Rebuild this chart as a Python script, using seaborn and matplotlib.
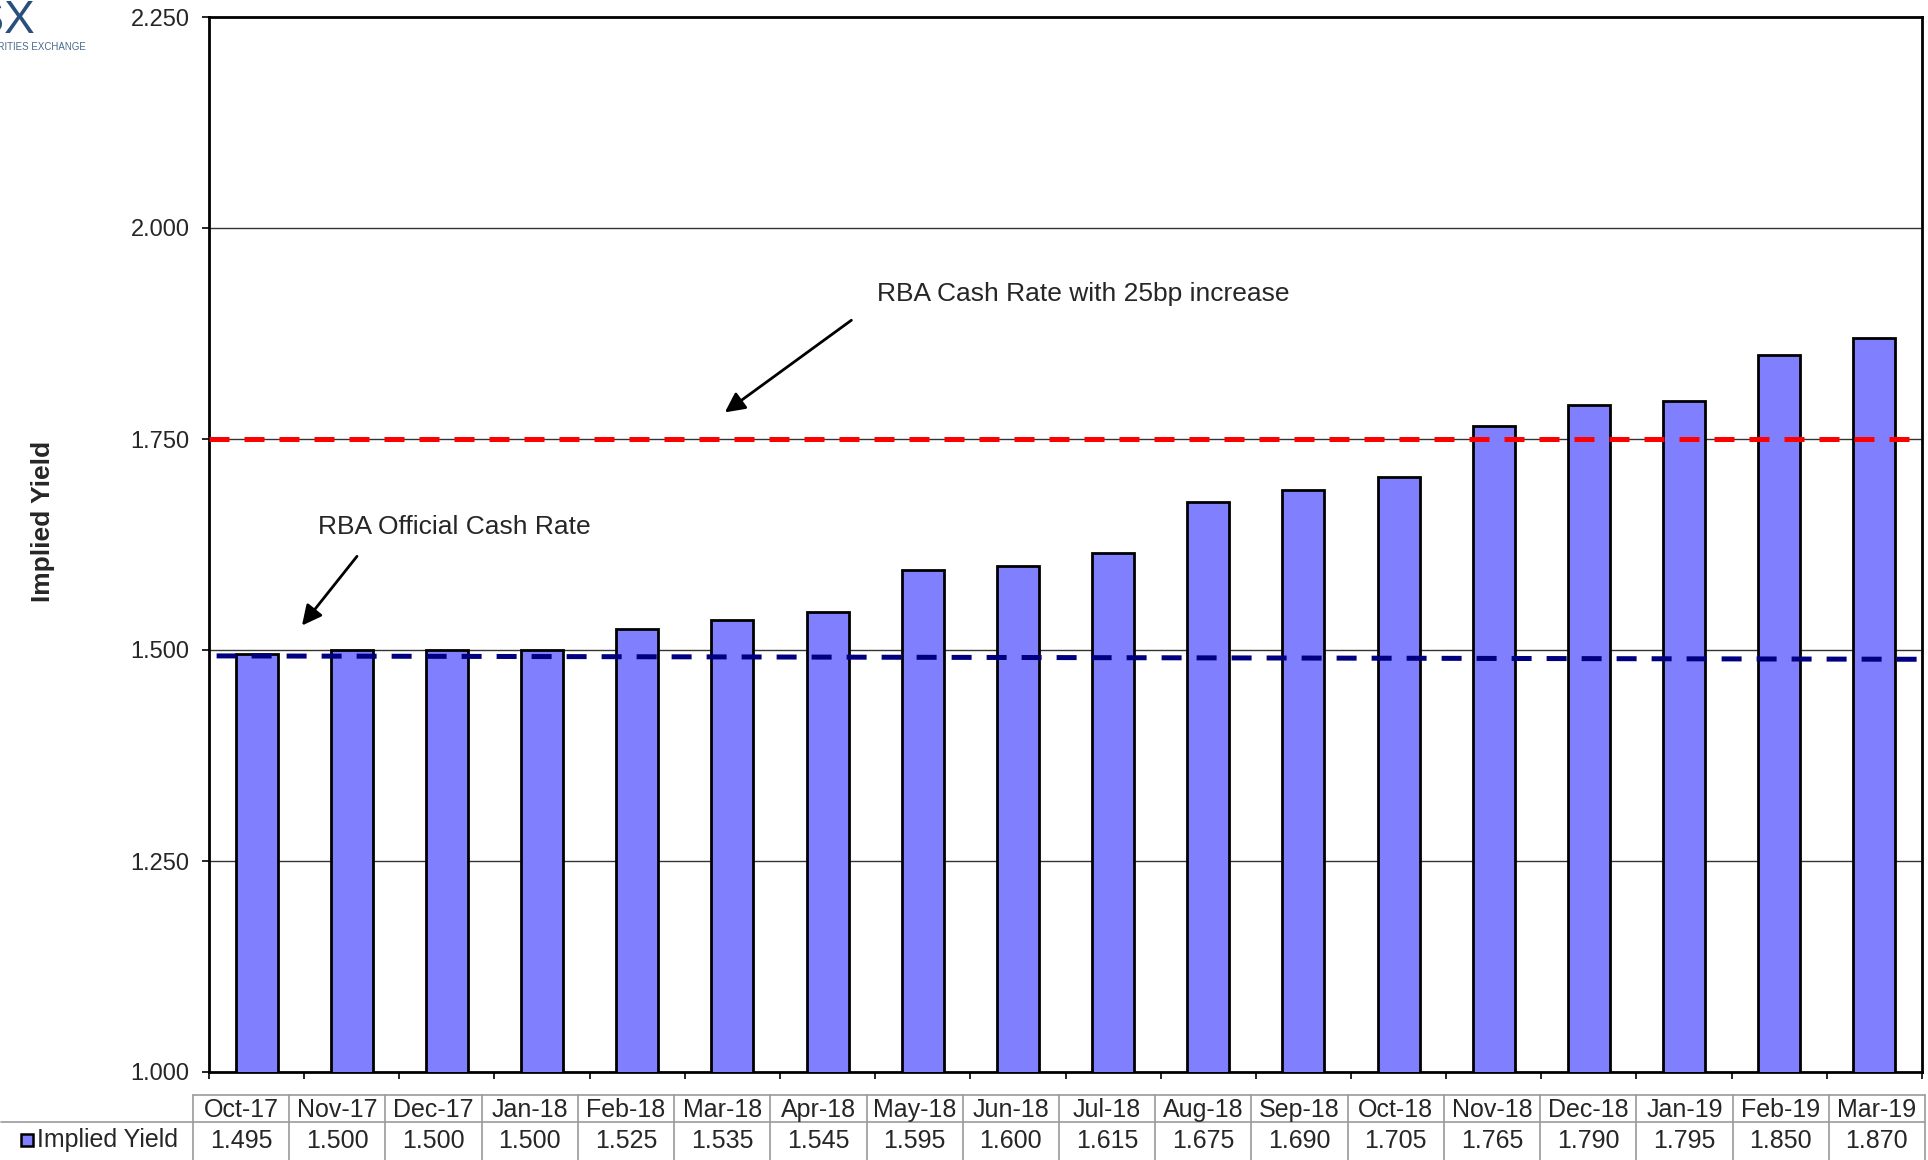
import matplotlib
matplotlib.use("Agg")
import matplotlib.pyplot as plt
import seaborn as sns
import pandas as pd

months = ["Oct-17", "Nov-17", "Dec-17", "Jan-18", "Feb-18", "Mar-18", "Apr-18",
          "May-18", "Jun-18", "Jul-18", "Aug-18", "Sep-18", "Oct-18", "Nov-18",
          "Dec-18", "Jan-19", "Feb-19", "Mar-19"]
implied_yield = [1.495, 1.500, 1.500, 1.500, 1.525, 1.535, 1.545, 1.595, 1.600,
                 1.615, 1.675, 1.690, 1.705, 1.765, 1.790, 1.795, 1.850, 1.870]
official_rate_line = [1.493, 1.489]   # start / end of the cash-rate marker
increase_rate = 1.75
y_ticks = [1.000, 1.250, 1.500, 1.750, 2.000, 2.250]

sns.set_theme(style="white")
plt.rcParams["font.family"] = ["Liberation Sans", "DejaVu Sans"]

W, H = 1928, 1160
fig = plt.figure(figsize=(W / 100, H / 100), dpi=100)


def px_box(x0, y0, x1, y1):
    return [x0 / W, 1 - y1 / H, (x1 - x0) / W, (y1 - y0) / H]


ax = fig.add_axes(px_box(209, 17, 1922, 1072))

df = pd.DataFrame({"Month": months, "Implied Yield": implied_yield})
sns.barplot(data=df, x="Month", y="Implied Yield", order=months,
            color="#8080FF", saturation=1, edgecolor="black", linewidth=2,
            width=0.44, ax=ax, zorder=3)

ax.set_ylim(y_ticks[0], y_ticks[-1])
ax.set_xlim(-0.5, len(months) - 0.5)
ax.set_yticks(y_ticks)
ax.set_yticklabels([f"{v:.3f}" for v in y_ticks], fontsize=17)
ax.set_xticks([i - 0.5 for i in range(len(months) + 1)])
ax.set_xticklabels([])
ax.tick_params(axis="y", which="both", left=True, length=5, width=1.2,
               color="black", pad=9)
ax.tick_params(axis="x", which="both", bottom=True, length=5, width=1.2,
               color="black")
ax.set_xlabel("")
ax.set_ylabel("")
for y in y_ticks[1:-1]:
    ax.axhline(y, color="#333333", lw=1.0, zorder=1)
for s in ax.spines.values():
    s.set_visible(True)
    s.set_color("black")
    s.set_linewidth(2)

# reference rates
ax.plot([-0.5, len(months) - 0.5], [increase_rate, increase_rate],
        color="#FF0000", lw=3.6, dashes=(4, 3), zorder=4)
ax.plot([-0.42, len(months) - 0.5], official_rate_line,
        color="#000080", lw=3.6, dashes=(4, 3), zorder=4)

fig.text(43 / W, 1 - 521 / H, "Implied Yield", rotation=90, fontsize=19,
         fontweight="bold", ha="center", va="center")

# annotations
arrow_kw = dict(arrowstyle="-|>", color="black", lw=2, mutation_scale=30,
                shrinkA=0, shrinkB=0)
ax.text(6.52, 1.922, "RBA Cash Rate with 25bp increase", fontsize=19,
        ha="left", va="center", zorder=5)
ax.annotate("", xy=(4.92, 1.7815), xytext=(6.25, 1.8907), arrowprops=arrow_kw)
ax.text(0.645, 1.646, "RBA Official Cash Rate", fontsize=19,
        ha="left", va="center", zorder=5)
ax.annotate("", xy=(0.477, 1.529), xytext=(1.055, 1.611), arrowprops=arrow_kw)

# data table under the chart
tax = fig.add_axes(px_box(193, 1095, 1925, 1160))
tax.set_xlim(-0.5, len(months) - 0.5)
tax.set_ylim(1160, 1095)
tax.axis("off")
grid_c = "#9a9a9a"
row_top, row_mid, row_bot = 1095, 1122, 1160
for i in range(len(months) + 1):
    tax.plot([i - 0.5, i - 0.5], [row_bot, row_top], color=grid_c, lw=1.2,
             clip_on=False)
tax.plot([-0.5, len(months) - 0.5], [row_top, row_top], color=grid_c, lw=1.2,
         clip_on=False)
tax.plot([-2.5, len(months) - 0.5], [row_mid, row_mid], color=grid_c, lw=1.2,
         clip_on=False)
for i, (m, v) in enumerate(zip(months, implied_yield)):
    tax.text(i, 1110, m, ha="center", va="center", fontsize=18)
    tax.text(i, 1141, f"{v:.3f}", ha="center", va="center", fontsize=18)

fig.text(37 / W, 1 - 1140 / H, "Implied Yield", ha="left", va="center",
         fontsize=18)
fig.patches.append(plt.Rectangle((21 / W, 1 - 1146 / H), 12 / W, 12 / H,
                                 transform=fig.transFigure,
                                 facecolor="#8080FF", edgecolor="black",
                                 lw=1.8))

# exchange logo text in the corner
fig.text(36 / W, 1 - 33 / H, "ASX", ha="right", va="baseline", fontsize=33,
         color="#2a4f7c")
fig.text(86 / W, 1 - 47 / H, "AUSTRALIAN SECURITIES EXCHANGE", ha="right",
         va="center", fontsize=7, color="#4a6a8c")

fig.savefig("out.png", dpi=100)
